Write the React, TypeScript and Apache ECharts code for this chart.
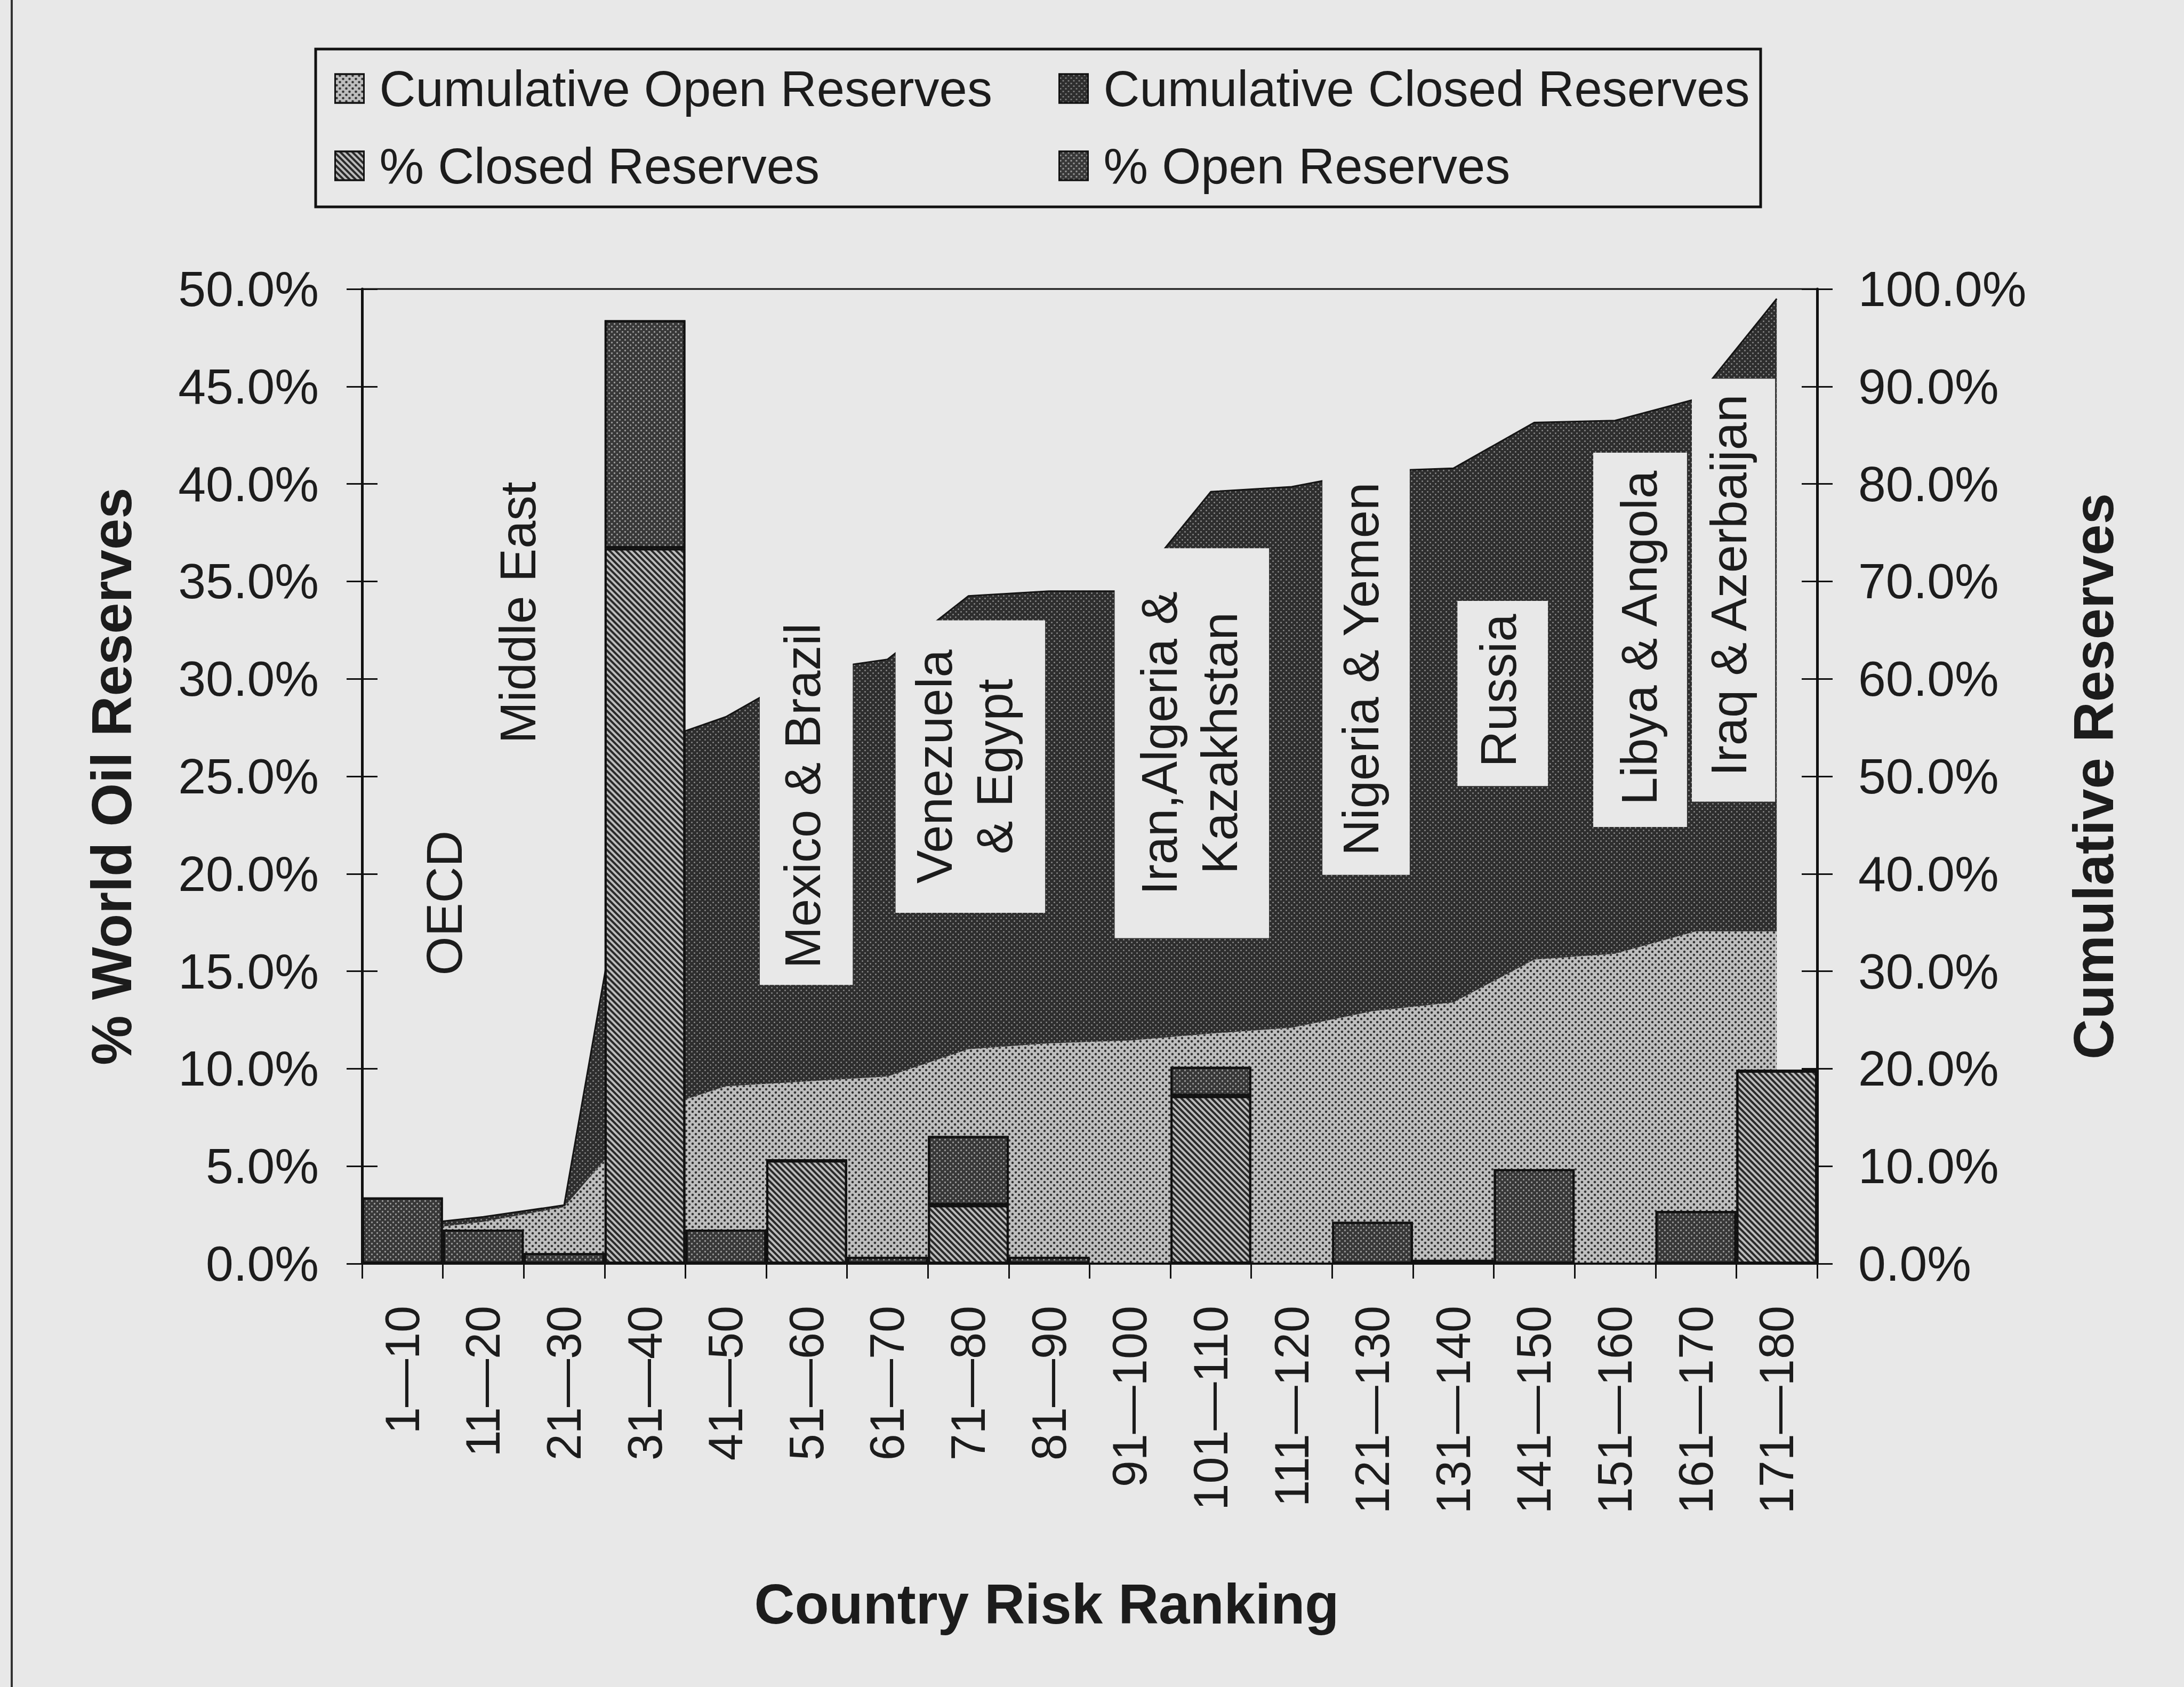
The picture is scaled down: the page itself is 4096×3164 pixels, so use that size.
import React, { useEffect, useRef } from 'react';
import * as echarts from 'echarts';

// ---------------- data ----------------
const categories = [
  '1—10', '11—20', '21—30', '31—40', '41—50', '51—60', '61—70', '71—80', '81—90',
  '91—100', '101—110', '111—120', '121—130', '131—140', '141—150', '151—160', '161—170', '171—180',
];
// % of world oil reserves per ranking band (left axis)
const pctClosedReserves = [0, 0, 0, 36.7, 0, 5.3, 0, 3.0, 0, 0, 8.6, 0, 0, 0, 0, 0, 0, 9.9];
const pctOpenReserves = [3.4, 1.75, 0.55, 11.7, 1.75, 0, 0.35, 3.55, 0.35, 0, 1.5, 0, 2.15, 0.2, 4.85, 0, 2.7, 0];
// cumulative reserves (right axis, stacked)
const cumulativeOpen = [3.3, 4.3, 5.8, 15.5, 18.2, 18.7, 19.2, 22.0, 22.6, 22.9, 23.6, 24.2, 25.9, 26.8, 31.2, 31.8, 34.1, 34.1];
const cumulativeClosed = [0.6, 0.5, 0.2, 37.7, 37.9, 42.1, 42.8, 46.5, 46.4, 46.1, 55.6, 55.5, 55.4, 54.8, 55.1, 54.7, 54.6, 64.9];
const leftTicks = { min: 0, max: 50, interval: 5 };
const rightTicks = { min: 0, max: 100, interval: 10 };

// region annotations (x in category units from the left edge, y in left-axis %)
const regionBoxes = [
  { x0: 4.92, x1: 6.07, y0: 14.3, y1: 33.5 },
  { x0: 6.60, x1: 8.45, y0: 18.0, y1: 33.0 },
  { x0: 9.31, x1: 11.22, y0: 16.7, y1: 36.7 },
  { x0: 11.88, x1: 12.96, y0: 19.95, y1: 42.0 },
  { x0: 13.55, x1: 14.67, y0: 24.5, y1: 34.0 },
  { x0: 15.23, x1: 16.39, y0: 22.4, y1: 41.6 },
  { x0: 16.45, x1: 17.48, y0: 23.7, y1: 45.4 },
];
const regionLabels = [
  { text: 'OECD', x: 1.02, y: 18.5 },
  { text: 'Middle East', x: 1.93, y: 33.4 },
  { text: 'Mexico & Brazil', x: 5.45, y: 24.0 },
  { text: 'Venezuela\n& Egypt', x: 7.45, y: 25.5 },
  { text: 'Iran,Algeria &\nKazakhstan', x: 10.24, y: 26.7 },
  { text: 'Nigeria & Yemen', x: 12.36, y: 30.5 },
  { text: 'Russia', x: 14.06, y: 29.4 },
  { text: 'Libya & Angola', x: 15.8, y: 32.1 },
  { text: 'Iraq & Azerbaijan', x: 16.91, y: 34.8 },
];

// ---------------- layout ----------------
const W = 4096;
const H = 3164;
const FONT = '"Liberation Sans", Arial, Helvetica, sans-serif';
const BG = '#e8e8e8';
const INK = '#1c1c1c';
const plotL = 679;
const plotR = 3408;
const plotT = 542;
const plotB = 2370;
const catW = (plotR - plotL) / categories.length;
const xAt = (c: number) => plotL + c * catW;
const yAt = (p: number) => plotB - (p / leftTicks.max) * (plotB - plotT);

const hatchDecal = {
  symbol: 'rect', symbolSize: 1, dashArrayX: [1, 0], dashArrayY: [4, 4],
  rotation: Math.PI / 4, color: '#2a2a2a',
};
const lightDotDecal = {
  symbol: 'circle', symbolSize: 0.75, dashArrayX: [[6, 6], [0, 6, 6, 0]], dashArrayY: [6, 0], color: '#333333',
};
const darkDotDecal = {
  symbol: 'circle', symbolSize: 0.6, dashArrayX: [[5, 5], [0, 5, 5, 0]], dashArrayY: [5, 0], color: '#888888',
};
const barDotDecal = {
  symbol: 'circle', symbolSize: 0.65, dashArrayX: [[5, 5], [0, 5, 5, 0]], dashArrayY: [5, 0], color: '#9a9a9a',
};

const COL = {
  light: '#bebebe',
  dark: '#2e2e2e',
  hatch: '#bcbcbc',
  bar: '#383838',
};

function buildOption() {
  const legendBase = {
    orient: 'horizontal',
    padding: 0,
    itemWidth: 54,
    itemHeight: 54,
    icon: 'rect',
    selectedMode: false,
    textStyle: { fontSize: 94, fontFamily: FONT, color: INK, lineHeight: 54, padding: [0, 0, 0, 24] },
  };
  const iconBorder = { borderColor: '#111', borderWidth: 3 };

  const boxEls = regionBoxes.map((b) => ({
    type: 'rect',
    z: 10,
    silent: true,
    shape: { x: xAt(b.x0), y: yAt(b.y1), width: xAt(b.x1) - xAt(b.x0), height: yAt(b.y0) - yAt(b.y1) },
    style: { fill: BG },
  }));
  const labelEls = regionLabels.map((l) => ({
    type: 'text',
    z: 11,
    silent: true,
    x: xAt(l.x),
    y: yAt(l.y),
    rotation: Math.PI / 2,
    style: {
      text: l.text, fill: INK, fontSize: 94, fontFamily: FONT,
      align: 'center', verticalAlign: 'middle', lineHeight: 113,
    },
  }));

  const pctFmt = (v: number) => v.toFixed(1) + '%';

  return {
    animation: false,
    backgroundColor: BG,
    grid: {
      left: plotL, right: W - plotR, top: plotT, bottom: H - plotB,
      show: true, borderColor: '#111', borderWidth: 3, backgroundColor: 'transparent',
    },
    legend: [
      { ...legendBase, left: 627, top: 119, data: [{ name: 'Cumulative Open Reserves', itemStyle: { color: COL.light, decal: lightDotDecal, ...iconBorder } }] },
      { ...legendBase, left: 1985, top: 119, data: [{ name: 'Cumulative Closed Reserves', itemStyle: { color: COL.dark, decal: darkDotDecal, ...iconBorder } }] },
      { ...legendBase, left: 627, top: 264, data: [{ name: '% Closed Reserves', itemStyle: { color: COL.hatch, decal: hatchDecal, ...iconBorder } }] },
      { ...legendBase, left: 1985, top: 264, data: [{ name: '% Open Reserves', itemStyle: { color: COL.bar, decal: barDotDecal, ...iconBorder } }] },
    ],
    xAxis: {
      type: 'category',
      data: categories,
      boundaryGap: true,
      axisLine: { show: true, lineStyle: { color: '#111', width: 4 } },
      axisTick: { show: true, length: 28, interval: 0, alignWithLabel: false, lineStyle: { color: '#111', width: 3 } },
      axisLabel: { rotate: 90, interval: 0, margin: 79, fontSize: 90, fontFamily: FONT, color: INK },
      splitLine: { show: false },
    },
    yAxis: [
      {
        type: 'value', position: 'left', ...leftTicks,
        axisLine: { show: true, lineStyle: { color: '#111', width: 5 } },
        axisTick: { show: true, length: 29, lineStyle: { color: '#111', width: 3 } },
        axisLabel: { formatter: pctFmt, margin: 81, fontSize: 93, fontFamily: FONT, color: INK },
        splitLine: { show: false },
        name: '% World Oil Reserves', nameLocation: 'middle', nameRotate: 90, nameGap: 417,
        nameTextStyle: { fontSize: 105, fontWeight: 'bold', fontFamily: FONT, color: INK, lineHeight: 105 },
      },
      {
        type: 'value', position: 'right', ...rightTicks,
        axisLine: { show: true, lineStyle: { color: '#111', width: 5 } },
        axisTick: { show: true, length: 29, lineStyle: { color: '#111', width: 3 } },
        axisLabel: { formatter: pctFmt, margin: 77, fontSize: 93, fontFamily: FONT, color: INK },
        splitLine: { show: false },
        name: 'Cumulative Reserves', nameLocation: 'middle', nameRotate: 90, nameGap: 466,
        nameTextStyle: { fontSize: 105, fontWeight: 'bold', fontFamily: FONT, color: INK, lineHeight: 105 },
      },
      {
        type: 'value', position: 'left', ...leftTicks,
        axisLine: { show: false },
        axisTick: { show: true, inside: true, length: 29, lineStyle: { color: '#111', width: 3 } },
        axisLabel: { show: false },
        splitLine: { show: false },
      },
      {
        type: 'value', position: 'right', ...rightTicks,
        axisLine: { show: false },
        axisTick: { show: true, inside: true, length: 29, lineStyle: { color: '#111', width: 3 } },
        axisLabel: { show: false },
        splitLine: { show: false },
      },
    ],
    series: [
      {
        name: 'Cumulative Open Reserves', type: 'line', yAxisIndex: 1, stack: 'cum',
        data: cumulativeOpen, symbol: 'none', z: 2,
        lineStyle: { width: 0, color: COL.light },
        itemStyle: { color: COL.light, decal: lightDotDecal },
        areaStyle: { color: COL.light, opacity: 1 },
      },
      {
        name: 'Cumulative Closed Reserves', type: 'line', yAxisIndex: 1, stack: 'cum',
        data: cumulativeClosed, symbol: 'none', z: 2,
        lineStyle: { width: 3, color: '#141414' },
        itemStyle: { color: COL.dark, decal: darkDotDecal },
        areaStyle: { color: COL.dark, opacity: 1 },
      },
      {
        name: '% Closed Reserves', type: 'bar', yAxisIndex: 0, stack: 'pct',
        data: pctClosedReserves, barWidth: '100%', z: 3,
        itemStyle: { color: COL.hatch, decal: hatchDecal, borderColor: '#111', borderWidth: 4 },
      },
      {
        name: '% Open Reserves', type: 'bar', yAxisIndex: 0, stack: 'pct',
        data: pctOpenReserves, barWidth: '100%', z: 3,
        itemStyle: { color: COL.bar, decal: barDotDecal, borderColor: '#111', borderWidth: 4 },
      },
    ],
    graphic: [
      {
        type: 'line', z: 10, silent: true,
        shape: { x1: 22, y1: 0, x2: 22, y2: H },
        style: { stroke: '#333', lineWidth: 4 },
      },
      {
        type: 'rect', z: 10, silent: true,
        shape: { x: 592, y: 92, width: 2710, height: 296 },
        style: { fill: 'none', stroke: '#111', lineWidth: 5 },
      },
      ...boxEls,
      ...labelEls,
      {
        type: 'text', z: 11, silent: true, x: 1963, y: 3008,
        style: {
          text: 'Country Risk Ranking', fill: INK, fontSize: 105, fontWeight: 'bold', fontFamily: FONT,
          align: 'center', verticalAlign: 'middle',
        },
      },
    ],
  };
}

export default function App() {
  const ref = useRef<HTMLDivElement>(null);
  useEffect(() => {
    if (!ref.current) return;
    const chart = echarts.init(ref.current, null, { renderer: 'svg', width: W, height: H });
    chart.setOption(buildOption() as any);
    return () => chart.dispose();
  }, []);
  return <div ref={ref} style={{ position: 'fixed', left: 0, top: 0, width: W, height: H }} />;
}
